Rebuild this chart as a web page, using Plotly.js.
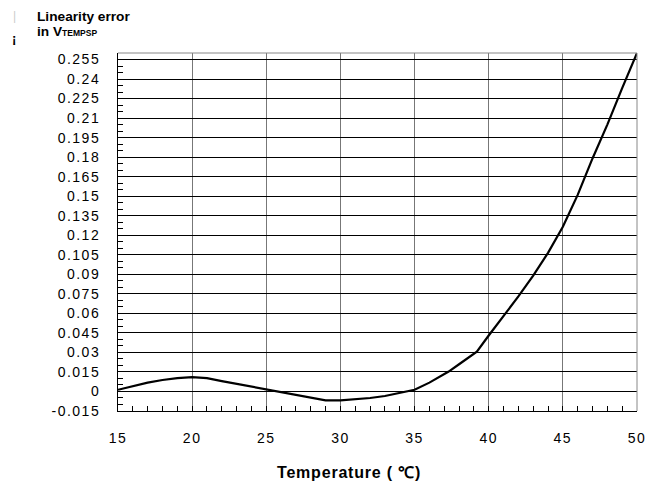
<!DOCTYPE html>
<html>
<head>
<meta charset="utf-8">
<script src="https://cdn.plot.ly/plotly-3.0.1.min.js"></script>
<style>
html,body{margin:0;padding:0;background:#fff;}
.xtick text,.ytick text{letter-spacing:1.5px;}
</style>
</head>
<body>
<div id="chart" style="width:645px;height:482px;"></div>
<script>
// Temperature (°C)
const temperature = [15,16,17,18,19,20,21,22,23,24,25,26,27,28,29,30,31,32,33,34,35,36,37,37.3,38,39,39.2,40,41,42,43,44,45,46,47,48,49,50];
// Linearity error in V_TEMPSP
const linearityError = [0.0013,0.004,0.0068,0.0088,0.0103,0.011,0.0103,0.008,0.0058,0.0038,0.0018,-0.0005,-0.0028,-0.005,-0.0068,-0.0069,-0.0062,-0.005,-0.0035,-0.0013,0.0013,0.0068,0.013,0.0153,0.0209,0.0285,0.0306,0.043,0.058,0.073,0.089,0.1065,0.1265,0.151,0.179,0.205,0.233,0.260];

const yTickVals = [-0.015,0,0.015,0.03,0.045,0.06,0.075,0.09,0.105,0.12,0.135,0.15,0.165,0.18,0.195,0.21,0.225,0.24,0.255];
const yTickText = ["-0.015","0","0.015","0.03","0.045","0.06","0.075","0.09","0.105","0.12","0.135","0.15","0.165","0.18","0.195","0.21","0.225","0.24","0.255"];
const xTickVals = [15,20,25,30,35,40,45,50];
const xTickText = ["15","20","25","30","35","40","45","50"];

const L = 118, R = 637, T = 53, B = 411, W = 645, H = 482;
const px = x => (x - L) / (R - L);
const py = y => (B - y) / (B - T);

const trace = {
  x: temperature, y: linearityError, type: 'scatter', mode: 'lines',
  line: {color: '#000', width: 2.2}, hoverinfo: 'skip'
};

const font = {family: 'Liberation Sans, Arial, sans-serif', color: '#000'};

const layout = {
  width: W, height: H,
  margin: {l: L, r: W - R, t: T, b: H - B, pad: 0},
  paper_bgcolor: '#fff', plot_bgcolor: '#fff',
  showlegend: false,
  font: Object.assign({size: 14}, font),
  xaxis: {
    range: [15, 50], tickvals: xTickVals, ticktext: xTickText,
    showgrid: true, gridcolor: '#777', gridwidth: 1,
    zeroline: false, showline: true, linecolor: '#000', linewidth: 1,
    ticks: 'inside', ticklen: 5, tickcolor: '#000',
    ticklabelstandoff: 14, ticklabeloverflow: 'allow',
    tickfont: Object.assign({size: 14}, font),
    minor: {dtick: 1, ticks: 'inside', ticklen: 5, tickcolor: '#000', showgrid: false},
    fixedrange: true
  },
  yaxis: {
    range: [-0.015, 0.26], tickvals: yTickVals, ticktext: yTickText,
    showgrid: true, gridcolor: '#000', gridwidth: 1,
    zeroline: false, showline: true, linecolor: '#000', linewidth: 1,
    ticks: 'inside', ticklen: 5, tickcolor: '#000',
    ticklabelstandoff: 14, ticklabeloverflow: 'allow',
    tickfont: Object.assign({size: 14}, font),
    minor: {dtick: 0.005, tick0: 0, ticks: 'inside', ticklen: 5, tickcolor: '#000', showgrid: false},
    fixedrange: true
  },
  shapes: [
    {type: 'line', xref: 'paper', yref: 'paper', x0: 0, x1: 1, y0: 1, y1: 1, line: {color: '#888', width: 1}},
    {type: 'line', xref: 'paper', yref: 'paper', x0: 1, x1: 1, y0: 0, y1: 1, line: {color: '#888', width: 1}}
  ],
  annotations: [
    {xref: 'paper', yref: 'paper', x: px(35), y: py(26), xanchor: 'left', yanchor: 'bottom', showarrow: false,
     text: '<b>Linearity error</b>', font: Object.assign({size: 13.7}, font)},
    {xref: 'paper', yref: 'paper', x: px(35), y: py(41.5), xanchor: 'left', yanchor: 'bottom', showarrow: false,
     text: '<b>in V<span style="font-size:8.5px">TEMPSP</span></b>', font: Object.assign({size: 13.7}, font)},
    {xref: 'paper', yref: 'paper', x: px(14), y: py(48), xanchor: 'center', yanchor: 'bottom', showarrow: false,
     text: '<b>¡</b>', font: Object.assign({size: 13}, font)},
    {xref: 'paper', yref: 'paper', x: px(14), y: py(25), xanchor: 'center', yanchor: 'bottom', showarrow: false,
     text: '|', font: {family: 'Liberation Sans, Arial, sans-serif', size: 12, color: '#ccc'}},
    {xref: 'paper', yref: 'paper', x: px(349), y: py(472), xanchor: 'center', yanchor: 'middle', showarrow: false,
     text: '<b><span style="letter-spacing:0.8px">Temperature ( ℃)</span></b>', font: Object.assign({size: 16}, font)}
  ]
};

Plotly.newPlot('chart', [trace], layout, {displayModeBar: false, staticPlot: true});
</script>
</body>
</html>
